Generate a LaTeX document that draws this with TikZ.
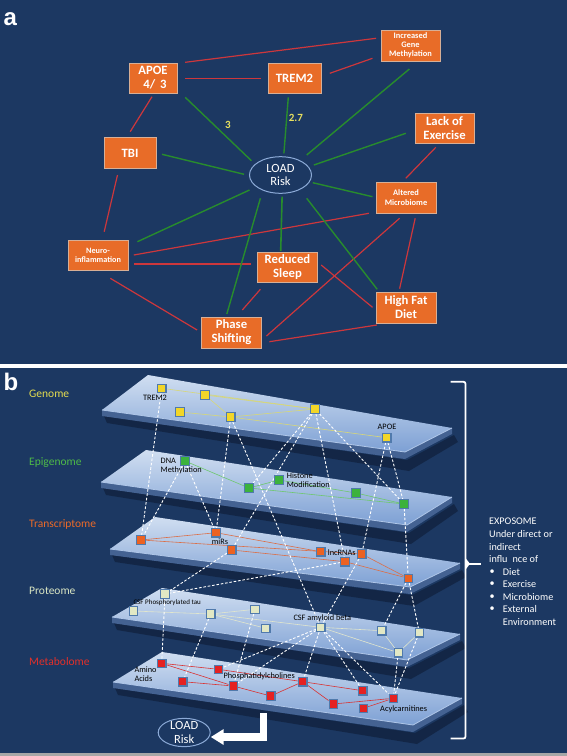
\documentclass[tikz,border=0pt]{standalone}
\usepackage{fontspec}
\setmainfont{Carlito}
\newfontfamily\panelfont{Liberation Sans}
\usetikzlibrary{calc,shapes.geometric,arrows.meta}
\pgfdeclarelayer{bg}
\pgfdeclarelayer{edges}
\pgfsetlayers{bg,edges,main}

\definecolor{navy}{RGB}{28,56,98}
\definecolor{boxor}{RGB}{232,108,40}
\definecolor{boxedge}{RGB}{215,175,150}
\definecolor{lred}{RGB}{205,55,60}
\definecolor{lgreen}{RGB}{40,140,45}
\definecolor{numyel}{RGB}{232,224,95}
\definecolor{elledge}{RGB}{140,170,215}
\definecolor{planeTop}{RGB}{208,222,241}
\definecolor{planeBot}{RGB}{125,160,212}
\definecolor{slabc}{RGB}{68,98,146}
\definecolor{slabhi}{RGB}{175,198,232}
\definecolor{shadowc}{RGB}{12,25,48}
\definecolor{sqedge}{RGB}{80,122,172}
\definecolor{cgen}{RGB}{228,220,80}
\definecolor{cepi}{RGB}{78,186,72}
\definecolor{ctra}{RGB}{236,106,40}
\definecolor{cpro}{RGB}{218,230,195}
\definecolor{cmet}{RGB}{226,48,42}
\definecolor{sqgen}{RGB}{242,214,40}
\definecolor{sqepi}{RGB}{60,178,60}
\definecolor{sqtra}{RGB}{236,98,34}
\definecolor{sqpro}{RGB}{226,232,196}
\definecolor{sqmet}{RGB}{228,34,34}
\definecolor{ilgen}{RGB}{215,215,120}
\definecolor{ilepi}{RGB}{110,200,110}
\definecolor{iltra}{RGB}{220,110,70}
\definecolor{ilpro}{RGB}{225,230,205}
\definecolor{ilmet}{RGB}{218,50,50}

\newcommand{\drawplane}[4]{%
  \fill[shadowc, opacity=0.55] ($#1+(2,6)$) -- ($#4+(2,8)$) -- ($#3+(2,7)$) -- ($#3+(6,14)$) -- ($#4+(4,19)$) -- ($#1+(5,13)$) -- cycle;
  \fill[slabc] #1 -- #4 -- #3 -- ($#3+(0,6)$) -- ($#4+(0,7)$) -- ($#1+(0,6)$) -- cycle;
  \shade[top color=planeTop, bottom color=planeBot] #1 -- #2 -- #3 -- #4 -- cycle;
  \draw[slabhi, line width=0.8pt] #1 -- #4 -- #3;
}

\tikzset{
  abox/.style={fill=boxor, draw=boxedge, line width=0.5pt, text=white, align=center, inner sep=1pt,
    font=\bfseries\fontsize{12.7}{14}\selectfont},
  sbox/.style={abox, font=\bfseries\fontsize{8.4}{9.2}\selectfont},
  rl/.style={draw=lred, line width=1.2pt},
  gl/.style={draw=lgreen, line width=1.4pt},
  numlab/.style={text=numyel, font=\bfseries\fontsize{11}{12}\selectfont, inner sep=0},
  sq/.style={draw=sqedge, line width=1.1pt, minimum size=8.5pt, inner sep=0, fill=#1},
  wd/.style={draw=white, line width=0.9pt, dash pattern=on 2.6pt off 1.8pt},
  il/.style={draw=#1, line width=0.6pt},
  blab/.style={text=black, inner sep=0, font=\fontsize{8.3}{9.6}\selectfont, align=left},
  layerlab/.style={text=#1, inner sep=0, anchor=west, font=\fontsize{11.5}{13}\selectfont},
  expo/.style={text=white, inner sep=0, anchor=west, font=\fontsize{10.2}{12}\selectfont},
  panlab/.style={text=white, inner sep=0, anchor=base west, font=\panelfont\bfseries\fontsize{24}{24}\selectfont},
}

\begin{document}
\begin{tikzpicture}[x={(1pt,0pt)}, y={(0pt,-1pt)}]
\useasboundingbox (0,0) rectangle (567,756);

\begin{pgfonlayer}{bg}
  \fill[navy] (0,0) rectangle (567,364);
  \fill[white] (0,364) rectangle (567,368);
  \fill[navy] (0,368) rectangle (567,753);
  \fill[gray!70] (0,753) rectangle (567,756);
  \drawplane{(102,410)}{(148,375)}{(452,428)}{(405,452)}
  \drawplane{(101,482)}{(146,450)}{(452,497)}{(407,525)}
  \drawplane{(110,549)}{(155,517)}{(460,563)}{(410,587)}
  \drawplane{(112,617)}{(162,588)}{(460,634)}{(407,660)}
  \drawplane{(113,682)}{(162,652)}{(462,698)}{(413,725)}
\end{pgfonlayer}

% ---------------- panel a ----------------
\node[panlab] (alab) at (3.5,25) {a};
\node[sbox, minimum width=59pt, minimum height=31pt] (igm) at (410.5,45.5) {Increased\\Gene\\Methylation};
\node[abox, minimum width=48pt, minimum height=30pt] (apoe) at (153,78) {APOE\\\hspace*{4pt}4/\hspace{5pt}3};
\node[abox, minimum width=53pt, minimum height=30pt] (trem) at (294.5,78) {TREM2};
\node[abox, minimum width=52pt, minimum height=31pt] (tbi) at (130,153) {TBI};
\node[abox, minimum width=59pt, minimum height=30pt] (lack) at (444.5,128) {Lack of\\Exercise};
\node[ellipse, draw=elledge, fill=navy, line width=1pt, minimum width=62pt, minimum height=36.6pt,
  text=white, align=center, font=\fontsize{12.5}{13.3}\selectfont, inner sep=-3pt] (load) at (280.5,175) {LOAD\\Risk};
\node[sbox, minimum width=60pt, minimum height=31pt] (alt) at (406,197.5) {Altered\\Microbiome};
\node[sbox, minimum width=60pt, minimum height=30pt, font=\bfseries\fontsize{8.2}{9}\selectfont] (neuro) at (98,255) {Neuro-\\inflammation};
\node[abox, minimum width=60pt, minimum height=30pt] (sleep) at (287.5,267) {Reduced\\Sleep};
\node[abox, minimum width=60pt, minimum height=31pt] (hfd) at (406,307.5) {High Fat\\Diet};
\node[abox, minimum width=60pt, minimum height=31pt] (phase) at (231.5,332.5) {Phase\\Shifting};
\node[numlab] (n3) at (227.8,125) {3};
\node[numlab] (n27) at (295.8,118.3) {2.7};

\begin{pgfonlayer}{edges}
  \draw[rl] ($(apoe)+(32.2,-15.7)$) -- ($(igm)+(-34.4,-7.2)$);
  \draw[rl] ($(apoe)+(32,0.5)$) -- ($(trem)+(-33.4,0.5)$);
  \draw[rl] ($(trem)+(35.3,-4.7)$) -- ($(igm)+(-38,12.8)$);
  \draw[rl] ($(apoe)+(-1,18.7)$) -- ($(tbi)+(0.2,-21.3)$);
  \draw[rl] ($(tbi)+(-12.5,22)$) -- ($(neuro)+(6.2,-23.3)$);
  \draw[rl] ($(lack)+(-8.7,19.3)$) -- ($(alt)+(-0.2,-19.2)$);
  \draw[rl] ($(neuro)+(35.8,0)$) -- ($(alt)+(-37.1,15.8)$);
  \draw[rl] ($(neuro)+(35.8,9)$) -- ($(sleep)+(-36.1,-3)$);
  \draw[rl] ($(neuro)+(12.3,23.3)$) -- ($(phase)+(-34.4,-2.5)$);
  \draw[rl] ($(sleep)+(-27.1,22.3)$) -- ($(phase)+(10.8,-22.5)$);
  \draw[rl] ($(sleep)+(33.7,-2)$) -- ($(hfd)+(-33.5,-0.2)$);
  \draw[rl] ($(alt)+(-6.4,20.8)$) -- ($(phase)+(35,3.5)$);
  \draw[rl] ($(alt)+(9.2,20.8)$) -- ($(hfd)+(-6.4,-18.8)$);
  \draw[rl] ($(phase)+(37.9,9.2)$) -- ($(hfd)+(-29.1,17.5)$);

  \draw[gl] ($(apoe)+(32.2,19.3)$) -- ($(load)+(-29.1,-14.3)$);
  \draw[gl] ($(trem)+(-6.2,19.3)$) -- ($(load)+(3.4,-21.7)$);
  \draw[gl] ($(igm)+(-1.1,23.5)$) -- ($(load)+(26.2,-20)$);
  \draw[gl] ($(tbi)+(32,1.3)$) -- ($(load)+(-36.4,-0.7)$);
  \draw[gl] ($(lack)+(-38.7,5.3)$) -- ($(load)+(33.4,-10)$);
  \draw[gl] ($(load)+(32.3,7.7)$) -- ($(alt)+(-33.5,-0.8)$);
  \draw[gl] ($(neuro)+(39.4,-13.3)$) -- ($(load)+(-31,15)$);
  \draw[gl, line width=1.6pt] ($(sleep)+(-6.8,-16)$) -- ($(load)+(1.6,21.7)$);
  \draw[gl] ($(phase)+(-4.7,-18.5)$) -- ($(load)+(-20.1,23.3)$);
  \draw[gl] ($(hfd)+(-28.8,-18.2)$) -- ($(load)+(26.2,23.3)$);
\end{pgfonlayer}

% ---------------- panel b ----------------
\node[panlab] (blab) at (3.5,390) {b};
\node[layerlab=cgen] (lgen) at (29,394) {Genome};
\node[layerlab=cepi] (lepi) at (29,462.7) {Epigenome};
\node[layerlab=ctra] (ltra) at (29,524) {Transcriptome};
\node[layerlab=cpro] (lpro) at (29,590.7) {Proteome};
\node[layerlab=cmet] (lmet) at (29,661.7) {Metabolome};

% genome
\node[sq=sqgen] (g1) at (161.7,388.3) {};
\node[sq=sqgen] (g2) at (205,395) {};
\node[sq=sqgen] (g3) at (180,412) {};
\node[sq=sqgen] (g4) at (230.7,417) {};
\node[sq=sqgen] (g5) at (315,409) {};
\node[sq=sqgen] (g6) at (386.7,437.7) {};
% epigenome
\node[sq=sqepi] (e1) at (185,461) {};
\node[sq=sqepi] (e2) at (249,488) {};
\node[sq=sqepi] (e3) at (279,480) {};
\node[sq=sqepi] (e4) at (356,493) {};
\node[sq=sqepi] (e5) at (404,504) {};
% transcriptome
\node[sq=sqtra] (t1) at (141,540) {};
\node[sq=sqtra] (t2) at (216,532.7) {};
\node[sq=sqtra] (t3) at (231.7,550) {};
\node[sq=sqtra] (t4) at (320.7,551.7) {};
\node[sq=sqtra] (t5) at (345,561.7) {};
\node[sq=sqtra] (t6) at (361.7,554) {};
\node[sq=sqtra] (t7) at (408.3,578.3) {};
% proteome
\node[sq=sqpro] (p1) at (165,594) {};
\node[sq=sqpro] (p2) at (133.3,611) {};
\node[sq=sqpro] (p3) at (210.7,614) {};
\node[sq=sqpro] (p4) at (255,609.3) {};
\node[sq=sqpro] (p5) at (265.7,628.3) {};
\node[sq=sqpro] (p6) at (320.7,627.3) {};
\node[sq=sqpro] (p7) at (381.7,630.7) {};
\node[sq=sqpro] (p8) at (419.3,632.7) {};
\node[sq=sqpro] (p9) at (398.3,652.7) {};
% metabolome
\node[sq=sqmet] (m1) at (161.7,663.3) {};
\node[sq=sqmet] (m2) at (182.7,681.7) {};
\node[sq=sqmet] (m3) at (218.3,669.3) {};
\node[sq=sqmet] (m4) at (233.3,686) {};
\node[sq=sqmet] (m5) at (270.7,696) {};
\node[sq=sqmet] (m6) at (302.7,681.7) {};
\node[sq=sqmet] (m7) at (333.3,704) {};
\node[sq=sqmet] (m8) at (362.7,690.7) {};
\node[sq=sqmet] (m9) at (363.3,708.3) {};
\node[sq=sqmet] (m10) at (393.3,698.3) {};

% labels
\node[blab] (ltrem) at (155,398) {TREM2};
\node[blab] (lapoe) at (387,427) {APOE};
\node[blab, anchor=west] (ldna) at (160.5,466) {DNA\\Methylation};
\node[blab, anchor=west] (lhis) at (286.7,480.3) {Histone\\Modification};
\node[blab] (lmir) at (220,541.7) {miRs};
\node[blab, anchor=west] (llnc) at (327.7,552.3) {lncRNAs};
\node[blab, anchor=west, font=\fontsize{7}{8}\selectfont] (lcsfp) at (133.3,602.7) {CSF Phosphorylated tau};
\node[blab, anchor=west] (lcsfa) at (293.3,618.3) {CSF amyloid beta};
\node[blab, anchor=west, font=\fontsize{8.3}{9}\selectfont] (lamino) at (134.3,673.8) {Amino\\Acids};
\node[blab, anchor=west] (lphos) at (223.3,676.7) {Phosphatidylcholines};
\node[blab, anchor=west] (lacyl) at (380,709) {Acylcarnitines};

\begin{pgfonlayer}{edges}
  % within-layer links
  \draw[il=ilgen] (g1) -- (g5); \draw[il=ilgen] (g2) -- (g5); \draw[il=ilgen] (g3) -- (g4);
  \draw[il=ilgen] (g4) -- (g5); \draw[il=ilgen] (g4) -- (g6); \draw[il=ilgen] (g2) -- (g4);
  \draw[il=ilepi] (e1) -- (e2); \draw[il=ilepi] (e2) -- (e3); \draw[il=ilepi] (e3) -- (e4);
  \draw[il=ilepi] (e2) -- (e5); \draw[il=ilepi] (e4) -- (e5);
  \draw[il=iltra] (t1) -- (t2); \draw[il=iltra] (t1) -- (t6); \draw[il=iltra] (t2) -- (t4);
  \draw[il=iltra] (t3) -- (t5); \draw[il=iltra] (t5) -- (t7); \draw[il=iltra] (t6) -- (t7);
  \draw[il=ilpro] (p2) -- (p3); \draw[il=ilpro] (p3) -- (p4); \draw[il=ilpro] (p3) -- (p6);
  \draw[il=ilpro] (p3) -- (p5); \draw[il=ilpro] (p6) -- (p7); \draw[il=ilpro] (p6) -- (p9);
  \draw[il=ilpro] (p8) -- (p9); \draw[il=ilpro] (p7) -- (p9);
  \draw[il=ilmet] (m1) -- (m3); \draw[il=ilmet] (m1) -- (m4); \draw[il=ilmet] (m2) -- (m4);
  \draw[il=ilmet] (m3) -- (m6); \draw[il=ilmet] (m4) -- (m5); \draw[il=ilmet] (m5) -- (m6);
  \draw[il=ilmet] (m6) -- (m8); \draw[il=ilmet] (m6) -- (m7); \draw[il=ilmet] (m7) -- (m10);
  \draw[il=ilmet] (m9) -- (m10);
  % cross-layer links
  \draw[wd] (g1) -- (t1); \draw[wd] (e1) -- (t1); \draw[wd] (e1) -- (t2);
  \draw[wd] (g4) -- (t2); \draw[wd] (g4) -- (p6); \draw[wd] (g5) -- (e2);
  \draw[wd] (g5) -- (t3); \draw[wd] (g5) -- (t5); \draw[wd] (g5) -- (e5);
  \draw[wd] (g6) -- (e5); \draw[wd] (g6) -- (t6); \draw[wd] (e5) -- (t7);
  \draw[wd] (t3) -- (p1); \draw[wd] (t5) -- (p1); \draw[wd] (t6) -- (p6);
  \draw[wd] (t7) -- (p7); \draw[wd] (t7) -- (p8);
  \draw[wd] (p1) -- (m1); \draw[wd] (p3) -- (m2); \draw[wd] (p4) -- (m4);
  \draw[wd] (p6) -- (m3); \draw[wd] (p6) -- (m4); \draw[wd] (p6) -- (m6);
  \draw[wd] (p6) -- (m8); \draw[wd] (p6) -- (m10); \draw[wd] (p9) -- (m10);
  \draw[wd] (p8) -- (m10);
\end{pgfonlayer}

% LOAD risk output
\node[ellipse, draw=elledge, fill=navy, line width=1pt, minimum width=52pt, minimum height=28.3pt,
  text=white, align=center, font=\fontsize{12.5}{13.3}\selectfont, inner sep=-3pt] (loadb) at (184.2,732.5) {LOAD\\Risk};
\coordinate (mout) at (263.6,713.3);
\draw[white, line width=7.3pt, -{Triangle[length=13pt, width=15pt]}] (mout) |- ($(loadb.east)+(0,4.5)$);

% exposome brace
\draw[white, line width=1.8pt, rounded corners=2pt] (450.5,381.8) -- (465.5,381.8) -- (465.5,738.5) -- (450.5,738.5);
\draw[white, line width=1.8pt] (465.5,563.8) -- (481,563.8);
\fill[white] (465.5,558) -- (470,563.8) -- (465.5,569.6) -- cycle;

\node[expo] (ex1) at (489,521.7) {EXPOSOME};
\node[expo] (ex2) at (489,534.3) {Under direct or};
\node[expo] (ex3) at (489,546.7) {indirect};
\node[expo] (ex4) at (489,559.3) {influ\hspace{5pt}nce of};
\node[expo] (bu1) at (489.5,571.7) {•};
\node[expo] (ex5) at (502.7,571.7) {Diet};
\node[expo] (bu2) at (489.5,584.3) {•};
\node[expo] (ex6) at (502.7,584.3) {Exercise};
\node[expo] (bu3) at (489.5,596.7) {•};
\node[expo] (ex7) at (502.7,596.7) {Microbiome};
\node[expo] (bu4) at (489.5,609.3) {•};
\node[expo] (ex8) at (502.7,609.3) {External};
\node[expo] (ex9) at (502.7,622.3) {Environment};
\end{tikzpicture}
\end{document}
